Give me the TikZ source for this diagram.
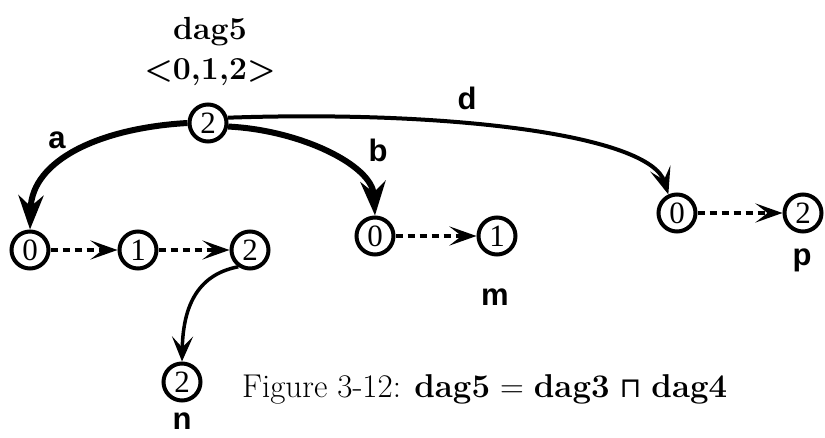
\documentclass[tikz,border=0pt]{standalone}
\usepackage{fontspec}
\newfontfamily\lblfont{Liberation Sans}
\newfontfamily\digfont{Liberation Serif}
\newfontfamily\opfont{DejaVu Sans}
\usetikzlibrary{arrows.meta}
\begin{document}
\begin{tikzpicture}[x=1pt,y=-1pt,
 vtx/.style={circle,draw,line width=4pt,minimum size=37pt,inner sep=0pt,font=\digfont\fontsize{31}{31}\selectfont},
 lbl/.style={inner sep=0pt,font=\lblfont\bfseries\fontsize{31}{31}\selectfont},
 ttl/.style={inner sep=0pt,font=\bfseries\fontsize{32}{32}\selectfont},
 heavy/.style={line width=6pt,-{Stealth[length=34pt,width=25pt,inset=11pt]}},
 medium/.style={line width=4pt,-{Stealth[length=27pt,width=21pt,inset=12pt]}},
 light/.style={line width=3.5pt,-{Stealth[length=25pt,width=21pt,inset=11pt]}},
 seq/.style={line width=4pt,dash pattern=on 7pt off 5pt,-{Stealth[length=27pt,width=19pt,inset=12pt]}},
]
\useasboundingbox (0,0) rectangle (825,438);
\node[vtx] (r) at (208,123) {2};
\node[vtx] (a0) at (30,250) {0};
\node[vtx] (a1) at (138,250) {1};
\node[vtx] (a2) at (250,250) {2};
\node[vtx] (n2) at (182,382) {2};
\node[vtx] (b0) at (375,236) {0};
\node[vtx] (b1) at (497,236) {1};
\node[vtx] (d0) at (677,213) {0};
\node[vtx] (d2) at (803,213) {2};
\node[ttl] (t1) at (210,32) {dag5};
\node[ttl] (t2) at (210,72) {<0,1,2>};
\node[lbl] (la) at (57,140) {a};
\node[lbl] (lb) at (378,150) {b};
\node[lbl] (ld) at (467,98) {d};
\node[lbl] (lm) at (495,297) {m};
\node[lbl] (lp) at (802,260) {p};
\node[lbl] (ln) at (182,421) {n};
\node[anchor=base west,inner sep=0pt,font=\fontsize{33}{33}\selectfont] (cap) at (242,397)
  {Figure 3-12: \textbf{dag5} = \textbf{dag3} {\opfont\fontsize{28}{28}\selectfont ⊓} \textbf{dag4}};
\draw[heavy] (r.west) .. controls (100,128) and (32,160) .. (a0.north);
\draw[heavy] (r.-10) .. controls (300,130) and (372,165) .. (b0.north);
\draw[medium] (r.15) .. controls (450,110) and (650,135) .. (d0.115);
\draw[light] (a2.235) .. controls (195,275) and (183,310) .. (n2.north);
\draw[seq] (a0.east) -- (a1.west);
\draw[seq] (a1.east) -- (a2.west);
\draw[seq] (b0.east) -- (b1.west);
\draw[seq] (d0.east) -- (d2.west);
\end{tikzpicture}
\end{document}
